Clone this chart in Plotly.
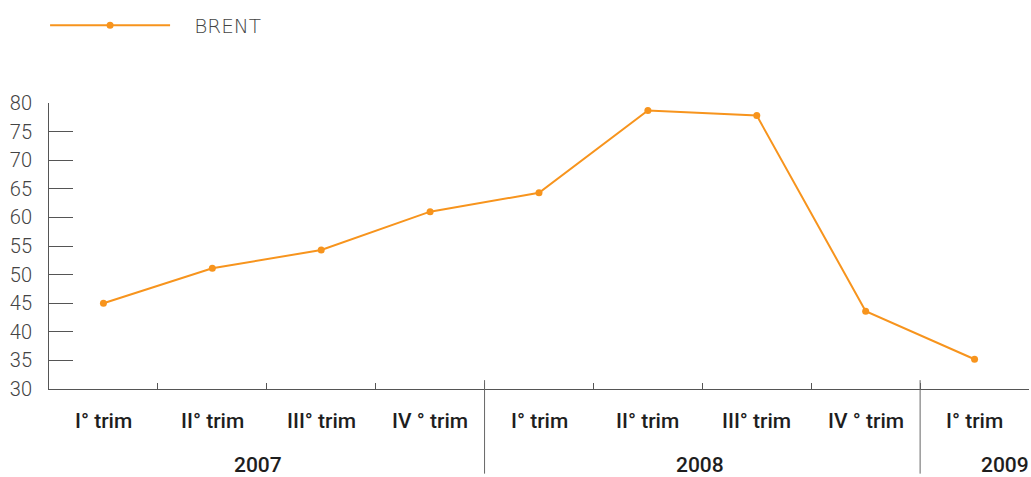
import plotly.graph_objects as go

quarters = ["I° trim", "II° trim", "III° trim", "IV ° trim",
            "I° trim", "II° trim", "III° trim", "IV ° trim", "I° trim"]
brent = [45.0, 51.1, 54.3, 61.0, 64.3, 78.7, 77.8, 43.6, 35.2]
years = ["2007", "2008", "2009"]
year_pos = [1.42, 5.48, 8.28]
year_breaks = [3.5, 7.5]

ORANGE = "#f7941d"
TEXT = "#444444"
AXIS = "#555555"

x = list(range(len(quarters)))

fig = go.Figure()
fig.add_trace(go.Scatter(
    x=x, y=brent, mode="lines+markers", name="\u00a0\u00a0\u00a0BRENT",
    line=dict(color=ORANGE, width=2),
    marker=dict(color=ORANGE, size=7),
))

label_font = dict(family="Roboto", size=21, color="#1e1e1e", weight=500)

# quarter labels below axis
for i, q in enumerate(quarters):
    fig.add_annotation(x=i, y=-0.112, xref="x", yref="paper", text=q, showarrow=False,
                       yanchor="middle", font=label_font)

# year labels
for xp, yr in zip(year_pos, years):
    fig.add_annotation(x=xp, y=-0.266, xref="x", yref="paper", text=yr, showarrow=False,
                       yanchor="middle", font=label_font)

# year dividers
for b in year_breaks:
    fig.add_shape(type="line", xref="x", yref="paper", x0=b, x1=b, y0=0.031, y1=-0.296,
                  line=dict(color="#666666", width=1))

fig.update_layout(
    width=1031, height=477,
    margin=dict(l=49, r=2, t=103, b=88),
    paper_bgcolor="white", plot_bgcolor="white",
    showlegend=True,
    legend=dict(x=-0.004, xanchor="left", y=1.272, yanchor="middle", orientation="h",
                itemwidth=120, font=dict(family="DejaVu Sans", size=20, color=TEXT, weight=300),
                bgcolor="rgba(0,0,0,0)"),
    xaxis=dict(range=[-0.5, len(quarters) - 0.5], showgrid=False, zeroline=False,
               showline=True, linecolor=AXIS, linewidth=1,
               tickvals=[], showticklabels=False,
               minor=dict(tickvals=[i + 0.5 for i in range(len(quarters) - 1)],
                          ticks="inside", ticklen=6, tickcolor=AXIS, tickwidth=1, showgrid=False)),
    yaxis=dict(range=[30, 80], dtick=5, tick0=30, showgrid=False, zeroline=False,
               showline=True, linecolor=AXIS, linewidth=1,
               ticks="inside", ticklen=24, tickcolor=AXIS, tickwidth=1,
               ticklabelstandoff=12,
               tickfont=dict(family="Roboto", size=20, color=TEXT, weight=300)),
)

fig.write_html("out.html", config={"displayModeBar": False},
               post_script="document.body.style.margin='0';")
